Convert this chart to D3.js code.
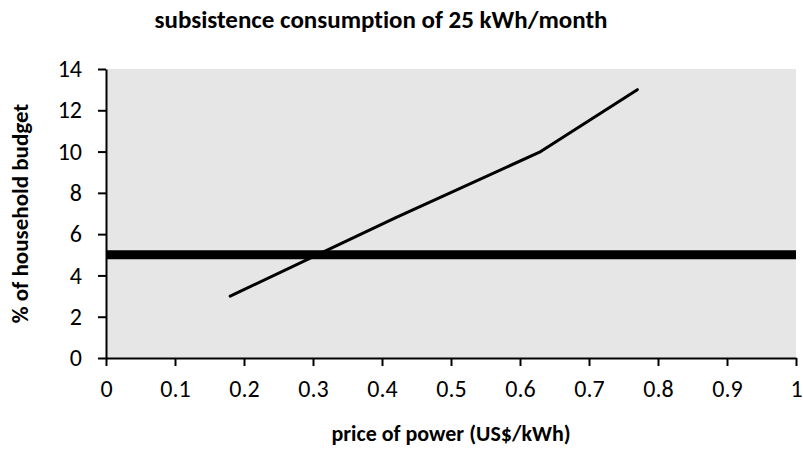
<!DOCTYPE html>
<html>
<head>
<meta charset="utf-8">
<script src="https://cdn.jsdelivr.net/npm/d3@7"></script>
<style>
  body { margin: 0; background: #fff; }
  text { font-family: Carlito, Calibri, Lato, "Open Sans", sans-serif; fill: #000; font-variant-ligatures: none; }
</style>
</head>
<body>
<div id="chart"></div>
<script>
// Chart data
var price = [0.18, 0.42, 0.63, 0.77];
var budgetShare = [3, 6.8, 10, 13];
var thresholdX = [0, 1];
var thresholdY = [5, 5];
var xTicks = [0, 0.1, 0.2, 0.3, 0.4, 0.5, 0.6, 0.7, 0.8, 0.9, 1];
var yTicks = [0, 2, 4, 6, 8, 10, 12, 14];

// SVG area
var svg__Width = 803;
var svg__Height = 468;

var chart__Margin = { top: 69, right: 7, bottom: 110, left: 106 };
var chart__Width = svg__Width - chart__Margin.left - chart__Margin.right;
var chart__Height = svg__Height - chart__Margin.top - chart__Margin.bottom;

var svg = d3.select("#chart")
  .append("svg")
  .attr("width", svg__Width)
  .attr("height", svg__Height);

var chart__Group = svg.append("g")
  .attr("transform", `translate(${chart__Margin.left}, ${chart__Margin.top})`);

// Scales
var x__Scale = d3.scaleLinear().domain([0, 1]).range([0, chart__Width]);
var y__Scale = d3.scaleLinear().domain([0, 14]).range([chart__Height, 0]);

// Plot background
chart__Group.append("rect")
  .attr("width", chart__Width)
  .attr("height", chart__Height)
  .attr("fill", "#e6e6e6");

// Axes
var left__Axis = d3.axisLeft(y__Scale).tickValues(yTicks).tickSizeInner(8).tickSizeOuter(0).tickPadding(16);
var bottom__Axis = d3.axisBottom(x__Scale).tickValues(xTicks).tickSizeInner(8).tickSizeOuter(0).tickPadding(14)
  .tickFormat(d3.format("~g"));

var yAxis = chart__Group.append("g").call(left__Axis);
var xAxis = chart__Group.append("g")
  .attr("transform", `translate(0, ${chart__Height})`)
  .call(bottom__Axis);

[yAxis, xAxis].forEach(function(a) {
  a.selectAll("path, line").attr("stroke", "#000").attr("stroke-width", 2);
  a.selectAll("text").style("font-size", "24px").attr("fill", "#000");
});

// Threshold line (5%)
var line = d3.line()
  .x(d => x__Scale(d[0]))
  .y(d => y__Scale(d[1]));

chart__Group.append("path")
  .datum(d3.zip(thresholdX, thresholdY))
  .attr("d", line)
  .attr("fill", "none")
  .attr("stroke", "#000")
  .attr("stroke-width", 9);

// Budget share line
chart__Group.append("path")
  .datum(d3.zip(price, budgetShare))
  .attr("d", line)
  .attr("fill", "none")
  .attr("stroke", "#000")
  .attr("stroke-width", 3)
  .attr("stroke-linecap", "round")
  .attr("stroke-linejoin", "round");

// Titles
svg.append("text")
  .attr("x", 381)
  .attr("y", 28)
  .attr("text-anchor", "middle")
  .style("font-size", "25px")
  .style("font-weight", "bold")
  .text("subsistence consumption of 25 kWh/month");

svg.append("text")
  .attr("x", chart__Margin.left + chart__Width / 2)
  .attr("y", 441)
  .attr("text-anchor", "middle")
  .style("font-size", "22px")
  .style("font-weight", "bold")
  .text("price of power (US$/kWh)");

svg.append("text")
  .attr("transform", `translate(28, ${chart__Margin.top + chart__Height / 2}) rotate(-90)`)
  .attr("text-anchor", "middle")
  .style("font-size", "23px")
  .style("font-weight", "bold")
  .text("% of household budget");
</script>
</body>
</html>
